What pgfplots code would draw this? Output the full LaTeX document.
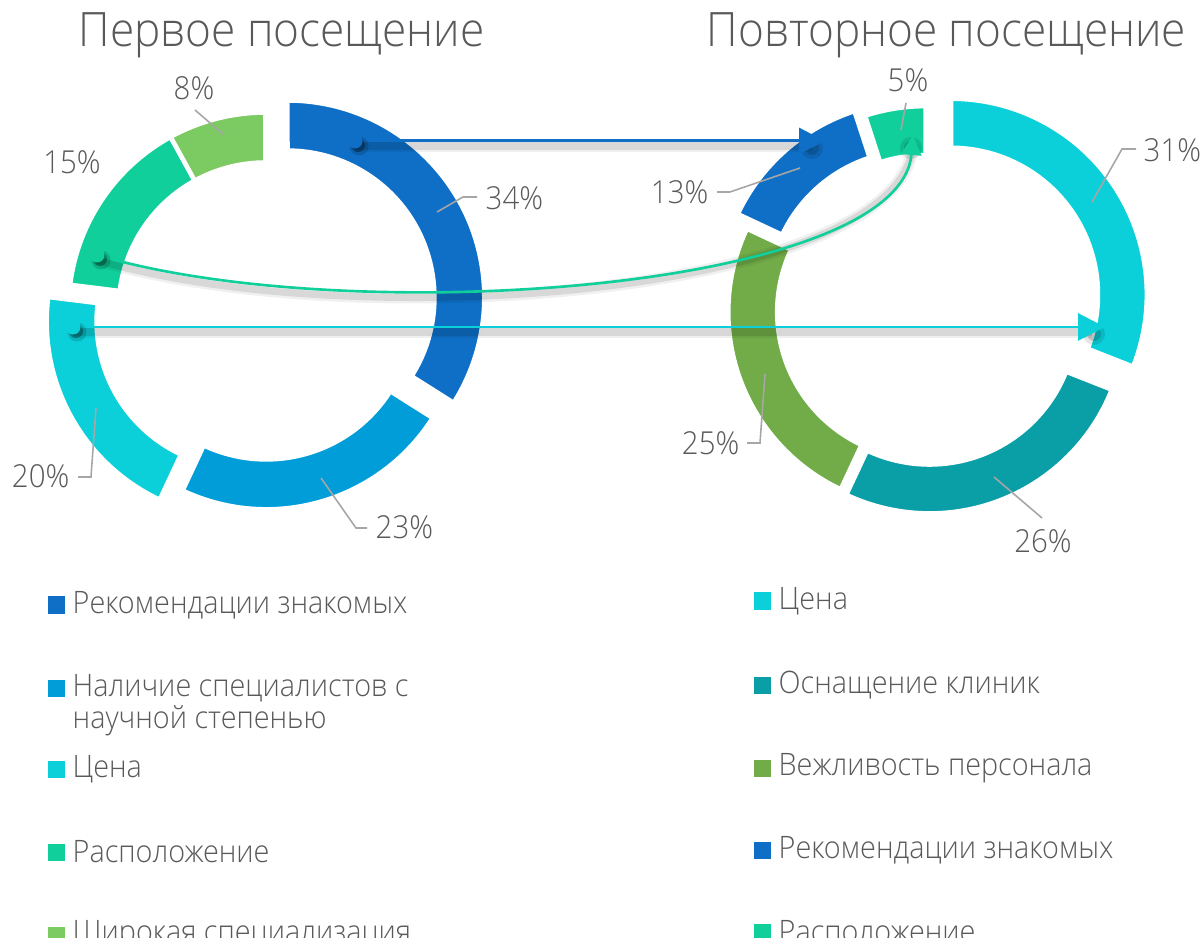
\documentclass[border=0pt]{standalone}
\usepackage{pgfplots}
\pgfplotsset{compat=1.18}
\usepackage{pgfplotstable}
\usetikzlibrary{arrows.meta}
\usepackage{fontspec}
\IfFontExistsTF{Open Sans Light}{\setmainfont{Open Sans Light}[FakeStretch=0.93]}{\setmainfont{Open Sans}[FakeStretch=0.93]}

\definecolor{cA}{HTML}{0F6FC6}
\definecolor{cB}{HTML}{009DD9}
\definecolor{cC}{HTML}{0BD0D9}
\definecolor{cD}{HTML}{10CF9B}
\definecolor{cE}{HTML}{7CCA62}
\definecolor{cT}{HTML}{0A9EA6}
\definecolor{cG}{HTML}{71AC48}
\definecolor{txt}{HTML}{595959}
\definecolor{lead}{HTML}{A6A6A6}

% first visit: share (%), explosion (px), colour
\pgfplotstableread{
value explode color
34 25 cA
23 3 cB
20 25 cC
15 0 cD
8 0 cE
}\firstvisit
% repeat visit
\pgfplotstableread{
value explode color
31 29 cC
26 7 cT
25 3 cG
13 18 cA
5 9 cD
}\secondvisit

% #1 table, #2 cx, #3 cy, #4 outer R, #5 inner r  (pixel units, y downward)
\newcommand\donut[5]{%
  \pgfplotstablegetrowsof{#1}%
  \pgfmathtruncatemacro\N{\pgfplotsretval-1}%
  \xdef\acc{0}%
  \foreach \i in {0,...,\N}{%
    \pgfplotstablegetelem{\i}{value}\of{#1}\let\val\pgfplotsretval
    \pgfplotstablegetelem{\i}{explode}\of{#1}\let\ex\pgfplotsretval
    \pgfplotstablegetelem{\i}{color}\of{#1}\let\col\pgfplotsretval
    \pgfmathsetmacro\aone{\acc*3.6}%
    \pgfmathsetmacro\atwo{(\acc+\val)*3.6}%
    \pgfmathsetmacro\amid{(\aone+\atwo)/2}%
    \pgfmathsetmacro\ccx{#2+\ex*sin(\amid)}%
    \pgfmathsetmacro\ccy{#3-\ex*cos(\amid)}%
    \pgfmathsetmacro\xa{\ccx+#4*sin(\aone)}%
    \pgfmathsetmacro\ya{\ccy-#4*cos(\aone)}%
    \pgfmathsetmacro\xb{\ccx+#5*sin(\atwo)}%
    \pgfmathsetmacro\yb{\ccy-#5*cos(\atwo)}%
    \pgfmathsetmacro\Rcm{#4*0.01}%
    \pgfmathsetmacro\rcm{#5*0.01}%
    \pgfmathsetmacro\sa{90-\aone}%
    \pgfmathsetmacro\sb{90-\atwo}%
    \fill[fill=\col, draw=white, line width=1.3pt, line join=miter]
      (axis cs:\xa,\ya) arc[start angle=\sa, end angle=\sb, radius=\Rcm cm]
      -- (axis cs:\xb,\yb) arc[start angle=\sb, end angle=\sa, radius=\rcm cm] -- cycle;
    \pgfmathsetmacro\newacc{\acc+\val}\xdef\acc{\newacc}%
  }%
}

\newcommand\lbl[4][west]{\node[anchor=#1, inner sep=0, text=txt, font=\fontsize{9.0}{11}\selectfont] at (axis cs:#2,#3) {#4};}
\newcommand\leg[4]{%
  \fill[#1] (axis cs:#2,#3-8.5) rectangle (axis cs:#2+17,#3+8.5);
  \node[anchor=west, inner sep=0, text=txt, font=\fontsize{8.8}{10}\selectfont] at (axis cs:#2+24,#3) {#4};}
\newcommand\shadowline[1]{%
  \draw[black, opacity=0.06, line width=3.4pt] #1;
  \draw[black, opacity=0.10, line width=2.0pt] #1;}
\newcommand\startdot[3]{%
  \fill[black, opacity=0.15] (axis cs:#2+4,#3+5) circle[radius=0.095cm];
  \fill[black, opacity=0.30] (axis cs:#2+3,#3+4) circle[radius=0.07cm];
  \fill[#1] (axis cs:#2,#3) circle[radius=0.075cm];}
\newcommand\tipshadow[2]{%
  \fill[black, opacity=0.10] (axis cs:#1,#2) circle[radius=0.11cm];
  \fill[black, opacity=0.15] (axis cs:#1,#2) circle[radius=0.07cm];}

\begin{document}
\begin{tikzpicture}
\useasboundingbox (0,0) rectangle (12.03,9.38);
\clip (0,0) rectangle (12.03,9.38);
\begin{axis}[at={(0,0)}, anchor=south west, scale only axis,
  width=12.03cm, height=9.38cm, xmin=0, xmax=1203, ymin=0, ymax=938,
  y dir=reverse, hide axis, clip=false]
\pgfplotsextra{
  \donut{\firstvisit}{265.5}{309.5}{197}{147}
  \donut{\secondvisit}{927}{311}{196}{147}

  % titles
  \node[anchor=base west, inner sep=0, text=txt, font=\fontsize{13.5}{16}\selectfont] at (axis cs:78,47) {Первое посещение};
  \node[anchor=base west, inner sep=0, text=txt, font=\fontsize{13.5}{16}\selectfont] at (axis cs:706,47) {Повторное посещение};

  % leader lines
  \draw[lead, line width=0.45pt] (axis cs:437,212) -- (axis cs:463,197) -- (axis cs:477,197);
  \draw[lead, line width=0.45pt] (axis cs:321,478) -- (axis cs:356,528) -- (axis cs:367,528);
  \draw[lead, line width=0.45pt] (axis cs:96,408) -- (axis cs:91,477) -- (axis cs:78,477);
  \draw[lead, line width=0.45pt] (axis cs:224,135) -- (axis cs:195,110);
  \draw[lead, line width=0.45pt] (axis cs:901,130) -- (axis cs:906,103);
  \draw[lead, line width=0.45pt] (axis cs:800,168) -- (axis cs:730,192) -- (axis cs:717,192);
  \draw[lead, line width=0.45pt] (axis cs:1092,202) -- (axis cs:1122,149) -- (axis cs:1136,149);
  \draw[lead, line width=0.45pt] (axis cs:765,374) -- (axis cs:760,443) -- (axis cs:747,443);
  \draw[lead, line width=0.45pt] (axis cs:994,477) -- (axis cs:1042,518);

  % percent labels
  \lbl{485}{198}{34\%}
  \lbl{375}{527}{23\%}
  \lbl[east]{70}{476}{20\%}
  \lbl[center]{72}{162}{15\%}
  \lbl[center]{194}{88}{8\%}
  \lbl[center]{908}{80}{5\%}
  \lbl[east]{709}{192}{13\%}
  \lbl{1143}{150}{31\%}
  \lbl[east]{740}{443}{25\%}
  \lbl[center]{1043}{541}{26\%}

  % arrow shadows
  \shadowline{(axis cs:355,146) -- (axis cs:812,146)}
  \shadowline{(axis cs:97,260) .. controls (axis cs:350,336) and (axis cs:900,296) .. (axis cs:913,145)}
  \shadowline{(axis cs:73,332) -- (axis cs:1092,332)}
  \tipshadow{812}{148}
  \tipshadow{1094}{334}
  \tipshadow{911}{148}
  % arrows
  \draw[cA, line width=0.85pt, -{Triangle[length=0.26cm, width=0.26cm]}] (axis cs:355,141) -- (axis cs:825,141);
  \draw[cD, line width=0.75pt, -{Triangle[length=0.2cm, width=0.2cm]}] (axis cs:97,255) .. controls (axis cs:350,330) and (axis cs:900,290) .. (axis cs:913,135);
  \draw[cC, line width=0.85pt, -{Triangle[length=0.27cm, width=0.27cm]}] (axis cs:73,327) -- (axis cs:1105,327);
  \startdot{cA}{355}{141}
  \startdot{cD}{97}{255}
  \startdot{cC}{73}{327}

  % legends
  \leg{cA}{48}{605}{Рекомендации знакомых}
  \leg{cB}{48}{688}{Наличие специалистов с}
  \node[anchor=west, inner sep=0, text=txt, font=\fontsize{8.8}{10}\selectfont] at (axis cs:72,721) {научной степенью};
  \leg{cC}{48}{769}{Цена}
  \leg{cD}{48}{852}{Расположение}
  \leg{cE}{48}{935}{Широкая специализация}

  \leg{cC}{754}{601}{Цена}
  \leg{cT}{754}{685}{Оснащение клиник}
  \leg{cG}{754}{768}{Вежливость персонала}
  \leg{cA}{754}{850}{Рекомендации знакомых}
  \leg{cD}{754}{932}{Расположение}
}
\end{axis}
\end{tikzpicture}
\end{document}
